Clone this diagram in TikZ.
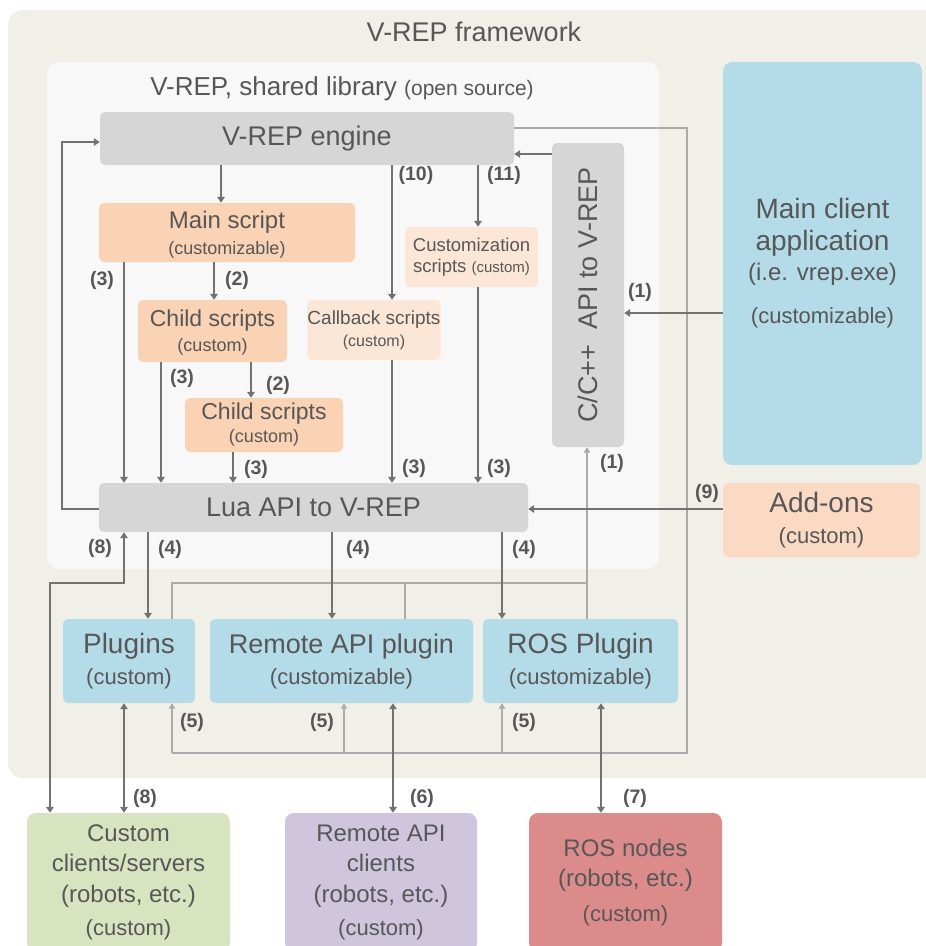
\documentclass[tikz,border=0pt]{standalone}
\usepackage{fontspec}
\setmainfont{Liberation Sans}
\usetikzlibrary{arrows.meta}
\definecolor{frameBg}{HTML}{F1F0E8}
\definecolor{innerBg}{HTML}{F8F8F8}
\definecolor{grayBox}{HTML}{D6D6D6}
\definecolor{peach}{HTML}{FAD2B4}
\definecolor{peachLight}{HTML}{FCE6D6}
\definecolor{addonC}{HTML}{FBDAC4}
\definecolor{blueBox}{HTML}{B3DCE8}
\definecolor{greenBox}{HTML}{D8E4C0}
\definecolor{purpleBox}{HTML}{CFC5DD}
\definecolor{redBox}{HTML}{DB8C8A}
\definecolor{txt}{HTML}{575757}
\definecolor{arr}{HTML}{727272}
\definecolor{busC}{HTML}{ABABAB}
\newcommand\fs[1]{\fontsize{#1}{#1}\selectfont}
\newcommand\fsk[2]{\fontsize{#1}{#2}\selectfont}
\newcommand\mkbox[7]{\node[box,#6,minimum width={#4-#2},minimum height={#5-#3}] (#1) at ({(#2+#4)/2},{(#3+#5)/2}) {#7};}
\tikzset{
  box/.style={rounded corners=5pt, inner sep=0pt, align=center, text=txt},
  darr/.style={draw=arr, line width=2.3pt, -{Triangle[width=7.5pt,length=6pt]}},
  darrb/.style={draw=arr, line width=2.3pt, {Triangle[width=7.5pt,length=6pt]}-{Triangle[width=7.5pt,length=6pt]}},
  busl/.style={draw=busC, line width=2pt},
  busarr/.style={draw=busC, line width=2pt, -{Triangle[width=6.5pt,length=5.5pt]}},
  lbl/.style={text=txt, font=\bfseries\fs{19.5}, inner sep=0pt}
}
\begin{document}
\begin{tikzpicture}[x=1pt,y=-1pt]
\path[use as bounding box, clip] (0,0) rectangle (926,946);
\fill[white] (0,0) rectangle (926,946);
% containers
\node[box, fill=frameBg, rounded corners=15pt, minimum width=945, minimum height=768] (frame) at ({(8+953)/2},{(10+778)/2}) {};
\node[text=txt, font=\fs{27}, inner sep=0pt] (title) at (474,32) {V-REP framework};
\mkbox{inner}{47}{62}{659}{569}{fill=innerBg, rounded corners=12pt}{}
\node[text=txt, inner sep=0pt] (libtitle) at (342,89) {\fs{26}V-REP, shared library {\fs{21}(open source)}};
% gray boxes
\mkbox{engine}{100}{112}{514}{165}{fill=grayBox, font=\fs{27}}{V-REP engine}
\mkbox{lua}{99}{483}{528}{532}{fill=grayBox, font=\fs{27}}{Lua API to V-REP}
\mkbox{capi}{552}{143}{624}{447}{fill=grayBox}{}
\node[text=txt, rotate=90, font=\fs{27}, inner sep=0pt] (capitext) at (capi.center) {C/C++\ \ API to V-REP};
% scripts
\mkbox{mainscript}{99}{203}{355}{262}{fill=peach, font=\fsk{18}{26}, text depth=-4pt}{\fs{24}Main script\\(customizable)}
\mkbox{childA}{138}{300}{287}{362}{fill=peach, font=\fsk{18}{25}, text depth=-4pt}{\fs{23}Child scripts\\(custom)}
\mkbox{childB}{185}{398}{343}{452}{fill=peach, font=\fsk{18}{23}}{\fs{23}Child scripts\\(custom)}
\mkbox{callback}{308}{300}{440}{360}{fill=peachLight, font=\fsk{16}{22}}{\fs{19}Callback scripts\\(custom)}
\mkbox{customization}{405}{227}{538}{287}{fill=peachLight, font=\fsk{18.5}{21}}{Customization\\scripts {\fs{15}(custom)}}
% right side
\mkbox{mainclient}{723}{62}{922}{465}{fill=blueBox, rounded corners=9pt, font=\fsk{22}{32}}{\fs{28}Main client\\\fs{28}application\\[-2pt]\fs{24}(i.e. vrep.exe)\\[11pt](customizable)}
\mkbox{addons}{723}{483}{920}{557}{fill=addonC, font=\fsk{22}{31}}{\fs{28}Add-ons\\(custom)}
% plugins
\mkbox{plugins}{63}{619}{195}{703}{fill=blueBox, font=\fsk{22}{31}}{\fs{28}Plugins\\(custom)}
\mkbox{remoteplugin}{210}{619}{473}{703}{fill=blueBox, font=\fsk{22}{31}}{\fs{27}Remote API plugin\\(customizable)}
\mkbox{rosplugin}{483}{619}{678}{703}{fill=blueBox, font=\fsk{22}{31}}{\fs{28}ROS Plugin\\(customizable)}
% external
\mkbox{customclients}{27}{813}{230}{952}{fill=greenBox, rounded corners=9pt, font=\fsk{24}{30.5}}{Custom\\clients/servers\\(robots, etc.)\\[3pt]\fs{22}(custom)}
\mkbox{remoteclients}{285}{813}{477}{952}{fill=purpleBox, rounded corners=9pt, font=\fsk{24}{30.5}}{Remote API\\clients\\(robots, etc.)\\[3pt]\fs{22}(custom)}
\mkbox{rosnodes}{529}{813}{722}{952}{fill=redBox, rounded corners=9pt, font=\fsk{24}{30.5}}{ROS nodes\\(robots, etc.)\\[4pt]\fs{22}(custom)}
% light buses
\coordinate (busTop) at (687,128);
\coordinate (busBot) at (687,753);
\coordinate (busL) at (172,753);
\coordinate (oneL) at (172,583);
\coordinate (oneR) at (587,583);
\draw[busl] (engine.east |- busTop) -- (busTop) -- (busBot) -- (busL);
\draw[busarr] (busL) -- (busL |- plugins.south);
\draw[busarr] (344,0 |- busBot) -- (344,0 |- remoteplugin.south);
\draw[busarr] (502,0 |- busBot) -- (502,0 |- rosplugin.south);
\draw[busl] (oneL |- plugins.north) -- (oneL) -- (oneR);
\draw[busl] (405,0 |- remoteplugin.north) -- (405,0 |- oneL);
\draw[busarr] (587,0 |- rosplugin.north) -- (587,0 |- capi.south);
% dark arrows
\draw[darr] (221,0 |- engine.south) -- (221,0 |- mainscript.north);
\draw[darr] (124,0 |- mainscript.south) -- (124,0 |- lua.north);
\draw[darr] (214,0 |- mainscript.south) -- (214,0 |- childA.north);
\draw[darr] (161,0 |- childA.south) -- (161,0 |- lua.north);
\draw[darr] (251,0 |- childA.south) -- (251,0 |- childB.north);
\draw[darr] (233,0 |- childB.south) -- (233,0 |- lua.north);
\draw[darr] (392,0 |- engine.south) -- (392,0 |- callback.north);
\draw[darr] (478,0 |- engine.south) -- (478,0 |- customization.north);
\draw[darr] (392,0 |- callback.south) -- (392,0 |- lua.north);
\draw[darr] (478,0 |- customization.south) -- (478,0 |- lua.north);
\draw[darr] (capi.west |- 0,154) -- (engine.east |- 0,154);
\draw[darr] (mainclient.west |- 0,313) -- (capi.east |- 0,313);
\draw[darr] (addons.west |- 0,509) -- (lua.east |- 0,509);
\draw[darr] (lua.west |- 0,509) -- (62,509) -- (62,142) -- (engine.west |- 0,142);
\draw[darr] (148,0 |- lua.south) -- (148,0 |- plugins.north);
\draw[darr] (332,0 |- lua.south) -- (332,0 |- remoteplugin.north);
\draw[darr] (502,0 |- lua.south) -- (502,0 |- rosplugin.north);
\draw[darrb] (50,0 |- customclients.north) -- (50,583) -- (124,583) -- (124,0 |- lua.south);
\draw[darrb] (124,0 |- plugins.south) -- (124,0 |- customclients.north);
\draw[darrb] (393,0 |- remoteplugin.south) -- (393,0 |- remoteclients.north);
\draw[darrb] (601,0 |- rosplugin.south) -- (601,0 |- rosnodes.north);
% labels
\node[lbl] (l3a) at (102,280) {(3)};
\node[lbl] (l2a) at (237,280) {(2)};
\node[lbl] (l3b) at (182,378) {(3)};
\node[lbl] (l2b) at (278,385) {(2)};
\node[lbl] (l3c) at (256,469) {(3)};
\node[lbl] (l10) at (416,175) {(10)};
\node[lbl] (l11) at (504,175) {(11)};
\node[lbl] (l3d) at (414,468) {(3)};
\node[lbl] (l3e) at (499,468) {(3)};
\node[lbl] (l1a) at (640,292) {(1)};
\node[lbl] (l1b) at (612,463) {(1)};
\node[lbl] (l9) at (707,493) {(9)};
\node[lbl] (l8a) at (100,548) {(8)};
\node[lbl] (l4a) at (170,549) {(4)};
\node[lbl] (l4b) at (358,549) {(4)};
\node[lbl] (l4c) at (524,549) {(4)};
\node[lbl] (l5a) at (192,722) {(5)};
\node[lbl] (l5b) at (322,722) {(5)};
\node[lbl] (l5c) at (524,722) {(5)};
\node[lbl] (l8b) at (145,798) {(8)};
\node[lbl] (l6) at (422,798) {(6)};
\node[lbl] (l7) at (635,798) {(7)};
\end{tikzpicture}
\end{document}
